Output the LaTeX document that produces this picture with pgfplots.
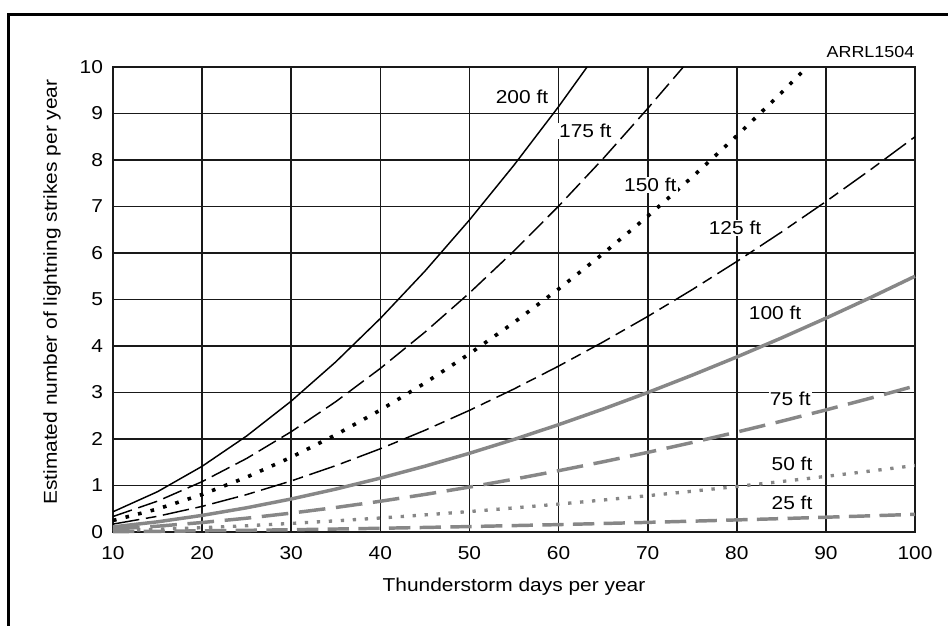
\documentclass[border=0pt]{standalone}
\usepackage{fontspec}
\setmainfont{Liberation Sans}[FakeStretch=1.12]
\usepackage{pgfplots}
\pgfplotsset{compat=1.18}
\definecolor{curvegray}{RGB}{135,135,135}
\definecolor{gridblack}{RGB}{25,25,25}
\newcommand{\lbl}{\fontsize{14}{16}\selectfont}
\begin{document}
\begin{tikzpicture}
\useasboundingbox (0,0) rectangle (711pt,468.75pt);
\draw[line width=2.25pt] (6.4pt,-5pt) -- (6.4pt,457.9pt) -- (720pt,457.9pt);
\begin{axis}[
  at={(84.75pt,69.75pt)}, anchor=south west,
  scale only axis, width=601.5pt, height=348.75pt,
  xmin=10, xmax=100, ymin=0, ymax=10,
  xtick={10,20,...,100}, ytick={0,1,...,10},
  grid=major,
  major grid style={gridblack, line width=1.25pt},
  axis line style={gridblack, line width=1.25pt},
  major tick length=0pt,
  /pgf/number format/assume math mode=true,
  tick label style={font=\lbl},
  xticklabel style={yshift=-7pt},
  yticklabel style={xshift=-4pt},
  label style={font=\lbl},
  xlabel={Thunderstorm days per year},
  ylabel={Estimated number of lightning strikes per year},
  xlabel style={at={(axis description cs:0.5,-0.118)}, anchor=center},
  ylabel style={at={(axis description cs:-0.076,0.516)}, anchor=center},
  clip=false,
]
% 200 ft
\addplot[black, line width=1.1pt] coordinates {
 (10,0.435) (15,0.867) (20,1.413) (25,2.065) (30,2.815) (35,3.659)
 (40,4.592) (45,5.609) (50,6.710) (55,7.890) (60,9.147) (63.2,10)};
% 175 ft
\addplot[black, line width=1.1pt, dash pattern=on 15pt off 5pt] coordinates {
 (10,0.333) (15,0.664) (20,1.083) (25,1.582) (30,2.157) (35,2.803)
 (40,3.518) (45,4.297) (50,5.140) (55,6.044) (60,7.007) (65,8.029)
 (70,9.107) (74,10)};
% 150 ft
\addplot[black, line width=2.7pt, dash pattern=on 2.7pt off 7pt] coordinates {
 (10,0.248) (15,0.495) (20,0.807) (25,1.179) (30,1.608) (35,2.090)
 (40,2.622) (45,3.203) (50,3.832) (55,4.506) (60,5.224) (65,5.986)
 (70,6.789) (75,7.634) (80,8.520) (85,9.444) (87.9,10)};
% 125 ft
\addplot[black, line width=1.1pt, dash pattern=on 20pt off 5pt on 8pt off 5pt] coordinates {
 (10,0.170) (15,0.338) (20,0.551) (25,0.805) (30,1.098) (35,1.427)
 (40,1.790) (45,2.187) (50,2.616) (55,3.076) (60,3.567) (65,4.087)
 (70,4.635) (75,5.212) (80,5.817) (85,6.448) (90,7.106) (95,7.790) (100,8.5)};
% 100 ft
\addplot[curvegray, line width=2.6pt] coordinates {
 (10,0.110) (15,0.219) (20,0.357) (25,0.521) (30,0.710) (35,0.923)
 (40,1.159) (45,1.415) (50,1.693) (55,1.991) (60,2.308) (65,2.644)
 (70,2.999) (75,3.373) (80,3.764) (85,4.172) (90,4.598) (95,5.041) (100,5.5)};
% 75 ft
\addplot[curvegray, line width=2.6pt, dash pattern=on 20pt off 8pt] coordinates {
 (10,0.063) (15,0.125) (20,0.204) (25,0.297) (30,0.406) (35,0.527)
 (40,0.661) (45,0.808) (50,0.966) (55,1.136) (60,1.318) (65,1.510)
 (70,1.712) (75,1.925) (80,2.149) (85,2.382) (90,2.625) (95,2.878) (100,3.14)};
% 50 ft
\addplot[curvegray, line width=2.5pt, dash pattern=on 2.5pt off 6.5pt] coordinates {
 (10,0.029) (15,0.057) (20,0.093) (25,0.135) (30,0.185) (35,0.240)
 (40,0.301) (45,0.368) (50,0.440) (55,0.518) (60,0.600) (65,0.688)
 (70,0.780) (75,0.877) (80,0.979) (85,1.085) (90,1.196) (95,1.311) (100,1.43)};
% 25 ft
\addplot[curvegray, line width=2.6pt, dash pattern=on 16pt off 7pt] coordinates {
 (10,0.008) (15,0.015) (20,0.025) (25,0.036) (30,0.049) (35,0.064)
 (40,0.080) (45,0.098) (50,0.117) (55,0.138) (60,0.159) (65,0.183)
 (70,0.207) (75,0.233) (80,0.260) (85,0.288) (90,0.318) (95,0.348) (100,0.38)};

\begin{scope}[every node/.style={fill=white, inner sep=1pt, font=\lbl}]
\node at (axis cs:55.9,9.35) {200 ft};
\node at (axis cs:63.0,8.62) {175 ft};
\node at (axis cs:70.3,7.46) {150 ft};
\node at (axis cs:79.8,6.54) {125 ft};
\node at (axis cs:84.3,4.71) {100 ft};
\node at (axis cs:86.0,2.86) {75 ft};
\node at (axis cs:86.2,1.46) {50 ft};
\node at (axis cs:86.2,0.62) {25 ft};
\end{scope}
\node[font=\fontsize{12}{14}\selectfont, inner sep=0pt] at (axis cs:95.0,10.32) {ARRL1504};
\end{axis}
\end{tikzpicture}
\end{document}
